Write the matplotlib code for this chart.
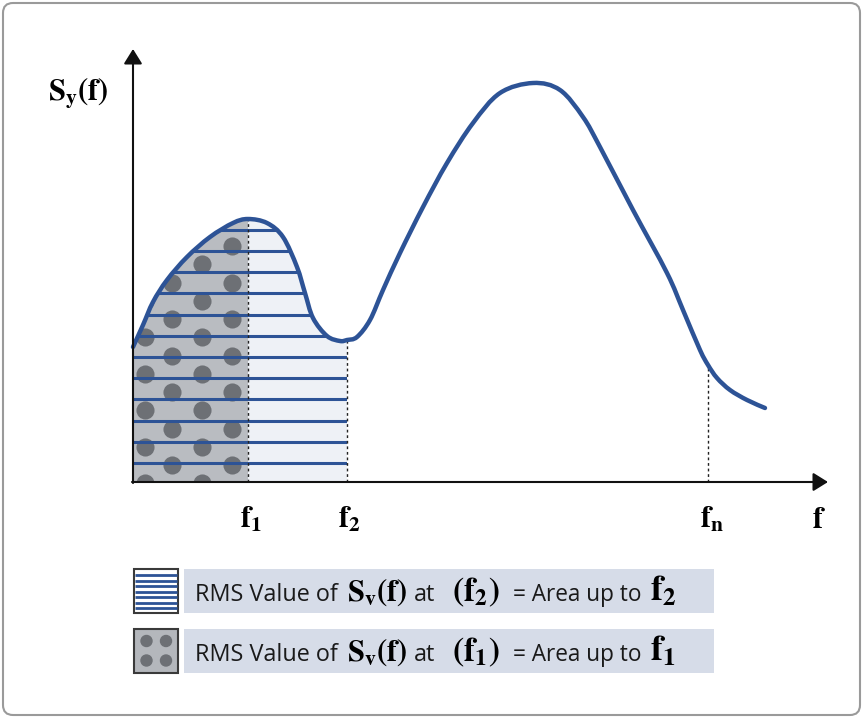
import numpy as np
import matplotlib.pyplot as plt
from matplotlib.path import Path
from matplotlib.patches import PathPatch, Rectangle, Circle, FancyBboxPatch

plt.rcParams['mathtext.fontset'] = 'stix'

# ---------------------------
# data
# ---------------------------
freq = [0.0, 1.0, 2.0, 3.4, 5.4, 7.7, 10.0, 11.5, 13.4, 15.0, 16.4, 17.2,
        18.0, 19.4, 20.7, 21.4, 22.4, 23.7, 25.0, 26.7, 29.0, 31.4, 34.0,
        36.7, 40.0, 42.7, 45.0, 46.7, 50.0, 53.4, 55.0, 56.7, 57.5, 58.4,
        59.7, 61.4, 63.2]
psd = [13.5, 15.7, 18.0, 20.2, 22.5, 24.5, 25.9, 26.3, 25.9, 24.5, 21.5, 18.9,
       16.4, 14.6, 14.1, 14.2, 14.5, 16.2, 19.2, 22.9, 27.5, 31.9, 35.9,
       38.9, 39.9, 39.2, 36.5, 33.5, 27.2, 20.9, 17.2, 13.2, 11.7, 10.4,
       9.2, 8.2, 7.4]

f_marks = [11.5, 21.4, 57.5]
f_labels = [r'$\mathbf{f_1}$', r'$\mathbf{f_2}$', r'$\mathbf{f_n}$']

# legend text pieces: (text, is_math, font size)
legend_rows = [
    [("RMS Value of", False, 16.8), (r"$\mathbf{S_v(f)}$", True, 22),
     ("at", False, 16.8), (r"$\mathbf{(f_2)}$", True, 24),
     ("= Area up to", False, 16.3), (r"$\mathbf{f_2}$", True, 26)],
    [("RMS Value of", False, 16.8), (r"$\mathbf{S_v(f)}$", True, 22),
     ("at", False, 16.8), (r"$\mathbf{(f_1)}$", True, 24),
     ("= Area up to", False, 16.3), (r"$\mathbf{f_1}$", True, 26)],
]
piece_x = [6.2, 21.4, 28.1, 31.9, 38.0, 51.7]

BLUE = '#2d5396'
DARK = '#b9bcc1'
DOT = '#6d7075'
LIGHT = '#eef1f6'
BOXC = '#d6dce8'

freq = np.array(freq)
psd = np.array(psd)
f1, f2, fn = f_marks
pts = np.column_stack([freq, psd])


def bezier_segments(p):
    # Catmull-Rom -> cubic bezier control points, one segment per gap
    segs = []
    n = len(p)
    for i in range(n - 1):
        p0 = p[max(i - 1, 0)]
        p3 = p[min(i + 2, n - 1)]
        c1 = p[i] + (p[i + 1] - p0) / 6.0
        c2 = p[i + 1] - (p3 - p[i]) / 6.0
        segs.append((c1, c2, p[i + 1]))
    return segs


segs = bezier_segments(pts)


def curve_path(upto=None):
    last = len(pts) - 1 if upto is None else upto
    verts = [pts[0]]
    codes = [Path.MOVETO]
    for c1, c2, e in segs[:last]:
        verts += [c1, c2, e]
        codes += [Path.CURVE4] * 3
    return verts, codes


def region(fmax):
    idx = int(np.argmin(np.abs(freq - fmax)))
    v, c = curve_path(idx)
    verts = [(0, 0)] + v + [(fmax, 0), (0, 0)]
    codes = [Path.MOVETO, Path.LINETO] + c[1:] + [Path.LINETO, Path.CLOSEPOLY]
    return PathPatch(Path(verts, codes))


fig = plt.figure(figsize=(8.65, 7.18), dpi=100)
ax = fig.add_axes([0, 0, 1, 1])
ax.set_xlim(-13.3, 73.2)
ax.set_ylim(-23.6, 48.2)
ax.axis('off')

# filled areas
light = region(f2)
light.set(facecolor=LIGHT, edgecolor='none', zorder=1)
ax.add_patch(light)
dark = region(f1)
dark.set(facecolor=DARK, edgecolor='none', zorder=2)
ax.add_patch(dark)

# dot pattern inside f1 area
dx, dy = [], []
for k in range(8):
    for x in (1.2, 6.9):
        dx.append(x); dy.append(25.45 - 3.65 * k)
    for x in (3.9, 9.9):
        dx.append(x); dy.append(27.25 - 3.65 * k)
sc = ax.scatter(dx, dy, s=170, color=DOT, linewidths=0, zorder=3)
sc.set_clip_path(dark)

# stripes inside f2 area
for y in np.arange(1.9, 26.5, 2.12):
    ln, = ax.plot([0, f2], [y, y], color=BLUE, lw=2.2, zorder=4,
                  solid_capstyle='butt')
    ln.set_clip_path(light)

# dotted guides
for f in f_marks:
    ax.plot([f, f], [0, np.interp(f, freq, psd)], color='#222222', lw=1.0,
            ls=(0, (2, 2)), zorder=5)

# the spectrum
v, c = curve_path()
ax.add_patch(PathPatch(Path(v, c), facecolor='none', edgecolor=BLUE, lw=3.2,
                       capstyle='round', joinstyle='round', zorder=6))

# axes with arrows
arw = dict(arrowstyle='-|>,head_length=0.45,head_width=0.28', color='#111111',
           lw=1.5, mutation_scale=20, shrinkA=0, shrinkB=0)
ax.annotate('', xy=(0, 43.3), xytext=(0, -0.1), arrowprops=arw, zorder=7)
ax.annotate('', xy=(69.5, 0), xytext=(-0.1, 0), arrowprops=arw, zorder=7)

ax.text(-5.5, 38.9, r'$\mathbf{S_y(f)}$', fontsize=22, ha='center',
        va='center')
for f, lab in zip(f_marks, f_labels):
    ax.text(f - 0.85, -4.6, lab, fontsize=22, ha='left', va='baseline')
ax.text(67.9, -4.6, r'$\mathbf{f}$', fontsize=22, ha='left', va='baseline')

# legend
for i, row in enumerate(legend_rows):
    y0 = -13.1 - 6.0 * i
    ax.add_patch(Rectangle((5.1, y0), 53.0, 4.4, facecolor=BOXC,
                           edgecolor='none', zorder=2))
    if i == 0:
        ax.add_patch(Rectangle((0.1, y0), 4.4, 4.4, facecolor='white',
                               edgecolor='#3a3a3a', lw=1.5, zorder=3))
        for yy in np.arange(y0 + 0.5, y0 + 4.2, 0.55):
            ax.plot([0.2, 4.4], [yy, yy], color=BLUE, lw=2.0, zorder=4,
                    solid_capstyle='butt')
    else:
        ax.add_patch(Rectangle((0.1, y0), 4.4, 4.4, facecolor='#b4b7bc',
                               edgecolor='#3a3a3a', lw=1.5, zorder=3))
        for cx in (1.35, 3.3):
            for cy in (y0 + 1.25, y0 + 3.2):
                ax.add_patch(Circle((cx, cy), 0.55, color=DOT, zorder=4))
    base = y0 + 1.2
    for (s, is_math, size), x in zip(row, piece_x):
        kw = {} if is_math else dict(family='Open Sans', color='#1a1a1a')
        ax.text(x, base, s, fontsize=size, ha='left', va='baseline',
                zorder=5, **kw)

# outer frame
ax.add_patch(FancyBboxPatch((-13.0, -23.3), 85.7, 71.2,
                            boxstyle='round,pad=0,rounding_size=1.0',
                            facecolor='none', edgecolor='#9a9a9a', lw=1.5,
                            zorder=0))

fig.savefig('out.png', dpi=100)
